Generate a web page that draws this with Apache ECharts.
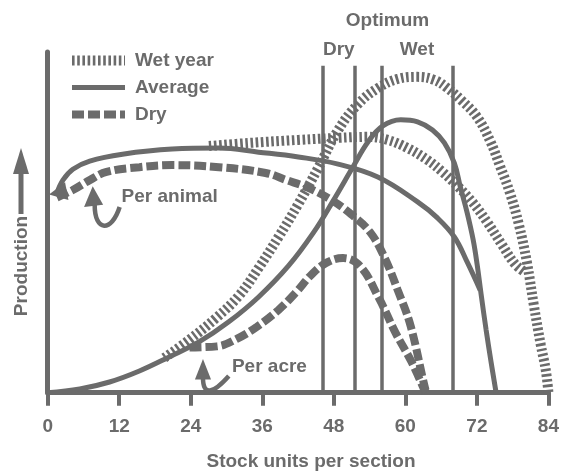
<!DOCTYPE html>
<html><head><meta charset="utf-8">
<script src="https://cdn.jsdelivr.net/npm/echarts@6/dist/echarts.min.js"></script>
<style>html,body{margin:0;padding:0;background:#fff}#c{width:562px;height:472px}</style>
</head><body><div id="c"></div>
<script>
const INK = '#6b6b6b';
const FONT = '"Liberation Sans", Arial, Helvetica, sans-serif';

const xTicks = [0, 12, 24, 36, 48, 60, 72, 84];
const legendNames = ['Wet year', 'Average', 'Dry'];

// Per acre curves
const avgPerAcre = [[0,0],[5.38,1.09],[10.38,3.14],[15.38,6.37],[20.38,10.5],[25.38,14.9],[30.38,20.8],[35.38,28.1],[40.38,37.2],[44.55,46.9],[47.88,56.3],[51.22,66.3],[53.72,73.6],[56.22,78.3],[59.22,80.1],[62.05,79.5],[64.55,77.1],[66.55,73.3],[68.22,67.4],[69.22,60.4],[70.38,52.7],[71.38,44.8],[72.05,37.5],[72.72,28.7],[73.55,18.4],[74.38,9.0],[75.22,0]];
const wetPerAcre = [[19.55,10.2],[23.72,15.5],[28.22,21.9],[32.05,28.4],[35.38,36.6],[38.72,45.7],[42.05,55.4],[45.38,66.0],[48.72,77.1],[52.05,84.7],[55.38,89.4],[58.72,92.1],[62.05,92.7],[64.88,91.8],[67.05,89.4],[69.55,85.6],[72.05,80.9],[74.22,73.9],[75.88,66.5],[77.55,58.6],[79.05,49.3],[80.38,38.4],[81.55,25.7],[82.72,14.0],[83.55,6.7],[84,0]];
const dryPerAcre = [[23.8,13.3],[28.38,13.6],[31.72,15.8],[35.05,19.3],[38.72,24.3],[41.72,29.6],[44.22,34.6],[46.72,38.1],[49.55,39.5],[52.38,37.2],[55.55,27.8],[58.38,17.5],[61.05,9.0],[63.38,0]];

// Per animal curves
const avgPerAnimal = [[1.55,58.6],[2.55,62.4],[4.22,65.6],[7.05,68.0],[12.55,70.0],[20.88,71.5],[28.72,71.8],[35.38,70.6],[42.05,69.2],[48.72,67.1],[55.38,63.3],[62.05,56.0],[65.38,51.3],[68.22,45.7],[70.38,38.3],[72.55,30.1]];
const wetPerAnimal = [[27.05,72.4],[33.72,73.3],[42.05,74.2],[48.72,74.8],[53.72,75.1],[57.05,74.2],[60.38,71.8],[63.72,68.3],[66.22,64.8],[68.72,60.7],[71.22,56.0],[73.72,50.1],[76.22,43.4],[78.38,37.8],[80.05,35.4]];
const dryPerAnimal = [[1.55,57.3],[4.22,59.5],[7.05,62.4],[9.88,64.8],[15.38,66.2],[20.88,66.8],[28.72,66.2],[36.55,64.5],[40.05,62.4],[43.72,60.1],[47.55,56.6],[50.88,52.4],[54.05,47.2],[56.55,39.5],[58.72,30.1],[60.88,19.6],[63.38,0.8],[63.72,0]];

// Optimum vertical lines (dry pair, wet pair) and their top
const optimumX = [46.1, 51.55, 56.0, 67.9];
const optimumTop = 96;

const styles = {
  'Wet year': { width: 10, type: [2.6, 2.6] },
  'Average': { width: 5, type: 'solid' },
  'Dry': { width: 8, type: [12, 4] }
};

function mkSeries(name, data, z, extra) {
  return Object.assign({
    type: 'line', name: name, data: data, symbol: 'none', smooth: 0.4,
    z: z, silent: true,
    itemStyle: { color: INK, opacity: 0 },
    lineStyle: { color: INK, width: styles[name].width, type: styles[name].type, cap: 'butt' }
  }, extra || {});
}

const chart = echarts.init(document.getElementById('c'), null, { renderer: 'canvas' });

chart.setOption({
  animation: false,
  backgroundColor: '#fff',
  grid: { left: 47.7, right: 10.3, top: 52, bottom: 79.3 },
  legend: {
    data: legendNames, orient: 'vertical', left: 67, top: 51, padding: 0,
    itemWidth: 53, itemHeight: 20, itemGap: 8, selectedMode: false,
    itemStyle: { opacity: 0 },
    lineStyle: { width: 'inherit', type: 'inherit', color: INK },
    textStyle: { fontSize: 19, fontWeight: 'bold', color: INK, fontFamily: FONT, padding: [0, 0, 0, 5] }
  },
  xAxis: {
    type: 'value', min: xTicks[0], max: xTicks[xTicks.length - 1], interval: 12,
    axisLine: { lineStyle: { color: INK, width: 5 } },
    axisTick: { length: 13, lineStyle: { color: INK, width: 4 } },
    axisLabel: { fontSize: 19, fontWeight: 'bold', color: INK, fontFamily: FONT, margin: 25 },
    splitLine: { show: false }
  },
  yAxis: {
    type: 'value', min: 0, max: 100,
    axisLine: { show: true, lineStyle: { color: INK, width: 5 } },
    axisTick: { show: false }, axisLabel: { show: false }, splitLine: { show: false }
  },
  series: [
    mkSeries('Wet year', wetPerAcre, 3),
    mkSeries('Average', avgPerAcre, 5, {
      markLine: {
        silent: true, symbol: 'none', animation: false,
        label: { show: false },
        lineStyle: { color: INK, width: 3.5, type: 'solid' },
        data: optimumX.map(x => [{ coord: [x, 0] }, { coord: [x, optimumTop] }])
      }
    }),
    mkSeries('Dry', dryPerAcre, 2),
    mkSeries('Wet year', wetPerAnimal, 3),
    mkSeries('Average', avgPerAnimal, 5),
    mkSeries('Dry', dryPerAnimal, 2)
  ]
});

function P(x, y) { return chart.convertToPixel({ gridIndex: 0 }, [x, y]); }
const txt = { fontSize: 19, fontWeight: 'bold', fill: INK, fontFamily: FONT };

function textEl(t, p, align, extra) {
  return Object.assign({
    type: 'text', x: p[0], y: p[1], silent: true, z: 10,
    style: Object.assign({ text: t, align: align, verticalAlign: 'middle' }, txt)
  }, extra || {});
}

const dryMid = (optimumX[0] + optimumX[1]) / 2;
const wetMid = (optimumX[2] + optimumX[3]) / 2;
const optMid = (optimumX[0] + optimumX[3]) / 2;

const g = [];
g.push(textEl('Optimum', P(optMid, 109.3), 'center'));
g.push(textEl('Dry', P(dryMid, 100.6), 'center'));
g.push(textEl('Wet', P(wetMid, 100.6), 'center'));
g.push(textEl('Per animal', P(12.4, 57.6), 'left'));
g.push(textEl('Per acre', P(30.9, 7.7), 'left'));

// axis titles
g.push(textEl('Stock units per section', [311, 462], 'center'));
g.push(textEl('Production', [22, 266], 'center', { rotation: Math.PI / 2 }));
g.push({ type: 'line', silent: true, shape: { x1: 21, y1: 214, x2: 21, y2: 170 }, style: { stroke: INK, lineWidth: 5 } });
g.push({ type: 'polygon', silent: true, shape: { points: [[13, 174], [29, 174], [21, 148]] }, style: { fill: INK } });

function bez(a, c1, c2, b) {
  const A = P(...a), C1 = P(...c1), C2 = P(...c2), B = P(...b);
  return { type: 'bezierCurve', silent: true, z: 10,
    shape: { x1: A[0], y1: A[1], cpx1: C1[0], cpy1: C1[1], cpx2: C2[0], cpy2: C2[1], x2: B[0], y2: B[1] },
    style: { stroke: INK, lineWidth: 4.5, fill: null } };
}
function head(tip, b1, b2) {
  return { type: 'polygon', silent: true, z: 10, shape: { points: [P(...tip), P(...b1), P(...b2)] }, style: { fill: INK } };
}
// Per animal curved arrow
g.push(bez([12.07, 54.5], [10.72, 47.1], [7.88, 47.1], [7.88, 55.1]));
g.push(head([7.55, 60.6], [6.1, 54.5], [9.3, 55.2]));
// Per acre J arrow
g.push(bez([26.05, 4.4], [26.05, -1.0], [27.7, -0.4], [30.38, 4.9]));
g.push(head([26.05, 9.9], [24.7, 3.9], [27.4, 3.9]));

// arrowhead at start of per-animal curves
const s0 = P(...avgPerAnimal[0]), s1 = P(...dryPerAnimal[1]);
let dx = s0[0] - s1[0], dy = s0[1] - s1[1];
const L = Math.hypot(dx, dy); dx /= L; dy /= L;
const tip = [s0[0] + dx * 8, s0[1] + dy * 8];
const bc = [tip[0] - dx * 18, tip[1] - dy * 18];
g.push({ type: 'polygon', silent: true, z: 10, shape: { points: [tip, [bc[0] - dy * 9, bc[1] + dx * 9], [bc[0] + dy * 9, bc[1] - dx * 9]] }, style: { fill: INK } });

chart.setOption({ graphic: g });
</script></body></html>
